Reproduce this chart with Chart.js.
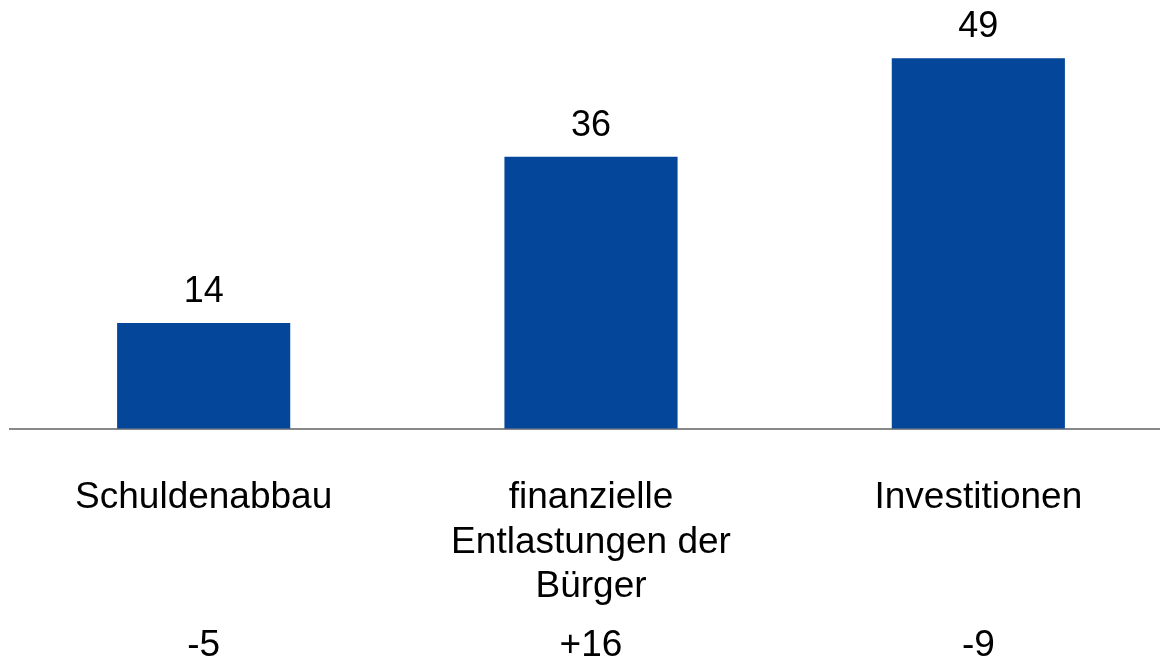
<!DOCTYPE html>
<html>
<head>
<meta charset="utf-8">
<script src="https://cdn.jsdelivr.net/npm/chart.js@4"></script>
<style>
    html, body { margin: 0; padding: 0; background: #fff; overflow: hidden; }
    #wrap { width: 1172px; height: 664px; position: relative; }
</style>
</head>
<body>
<div id="wrap"><canvas id="chart"></canvas></div>
<script>
// Kategorien und Werte
const categories = [
    ['Schuldenabbau'],
    ['finanzielle', 'Entlastungen der', 'Bürger'],
    ['Investitionen']
];
const values = [14, 36, 49];
const changes = ['-5', '+16', '-9'];

const FONT = '"Liberation Sans", Arial, sans-serif';

// Werte über den Balken und Veränderungen unten
const labelPlugin = {
    id: 'labelPlugin',
    afterDatasetsDraw(chart) {
        const ctx = chart.ctx;
        const meta = chart.getDatasetMeta(0);
        const xScale = chart.scales.x;
        ctx.save();
        ctx.font = '36px ' + FONT;
        ctx.fillStyle = '#000';
        ctx.textAlign = 'center';
        ctx.textBaseline = 'alphabetic';
        meta.data.forEach((bar, i) => {
            ctx.fillText(String(values[i]), bar.x, bar.y - 21);
        });
        ctx.font = '37px ' + FONT;
        ctx.textBaseline = 'middle';
        changes.forEach((c, i) => {
            ctx.fillText(c, xScale.getPixelForValue(i), 646);
        });
        ctx.restore();
    }
};

new Chart(document.getElementById('chart'), {
    type: 'bar',
    data: {
        labels: categories,
        datasets: [{
            data: values,
            backgroundColor: '#044699',
            categoryPercentage: 1,
            barPercentage: 0.447
        }]
    },
    options: {
        responsive: true,
        maintainAspectRatio: false,
        animation: false,
        layout: { padding: { top: 13, left: 10, right: 0, bottom: 8 } },
        plugins: { legend: { display: false }, tooltip: { enabled: false } },
        scales: {
            x: {
                grid: { display: false, drawTicks: false },
                border: { display: true, color: '#888888', width: 2 },
                ticks: {
                    color: '#000',
                    padding: 47,
                    maxRotation: 0,
                    autoSkip: false,
                    font: { family: FONT, size: 37, lineHeight: 1.2 }
                }
            },
            y: {
                display: false,
                min: 0,
                max: 55
            }
        }
    },
    plugins: [labelPlugin]
});
</script>
</body>
</html>
